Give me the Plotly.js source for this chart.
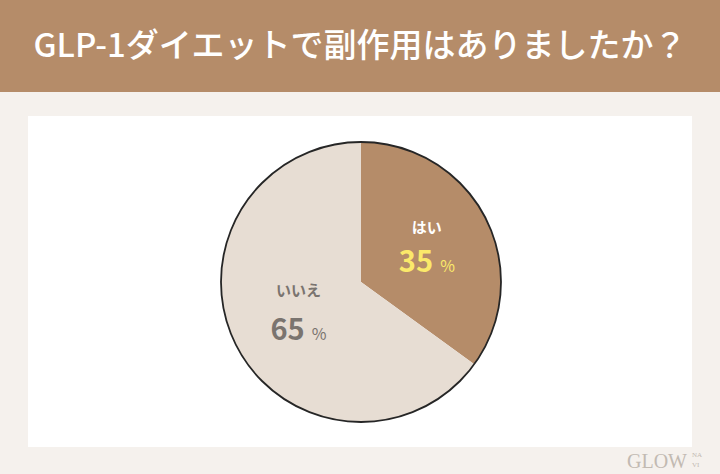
<!DOCTYPE html>
<html>
<head>
<meta charset="utf-8">
<script src="https://cdn.plot.ly/plotly-3.0.1.min.js"></script>
<style>
html,body{margin:0;padding:0;background:#f5f1ed;}
#chart{width:720px;height:474px;}
</style>
</head>
<body>
<div id="chart"></div>
<script>
const chartTitle = "GLP-1ダイエットで副作用はありましたか？";
const labels = ["はい", "いいえ"];
const values = [35, 65];
const sliceColors = ["#b58c69", "#e7ddd3"];
const labelColors = ["#ffffff", "#7a746f"];
const numberColors = ["#fbe96a", "#7a746f"];

const W = 720, H = 474;
const px = v => v / W;
const py = v => 1 - v / H;

const templates = labels.map((l, i) =>
  "<span style='font-size:15px'><b>%{label}</b></span><br><br><span style='font-size:29px;color:" + numberColors[i] +
  "'><b>%{value}</b></span><span style='font-size:16px;color:" + numberColors[i] + "'>  %</span>"
);

const total = values.reduce((a, b) => a + b, 0);
const dom = {x: [px(221), px(501)], y: [py(422), py(142)]};

const traces = [
  {
    type: "pie",
    labels: labels,
    values: values,
    sort: false,
    direction: "clockwise",
    rotation: 0,
    marker: {colors: sliceColors, line: {width: 0}},
    texttemplate: templates,
    textposition: "inside",
    insidetextorientation: "horizontal",
    textfont: {family: "Noto Sans CJK JP, Noto Sans, sans-serif", size: [15, 17], color: labelColors},
    hoverinfo: "label+percent",
    showlegend: false,
    domain: dom
  },
  {
    type: "pie",
    labels: ["outline"],
    values: [total],
    sort: false,
    marker: {colors: ["rgba(0,0,0,0)"], line: {color: "#262626", width: 1.8}},
    textinfo: "none",
    hoverinfo: "skip",
    showlegend: false,
    domain: dom
  }
];

const layout = {
  width: W, height: H,
  margin: {l: 0, r: 0, t: 0, b: 0},
  paper_bgcolor: "#f5f1ed",
  plot_bgcolor: "rgba(0,0,0,0)",
  showlegend: false,
  title: {
    text: chartTitle,
    font: {family: "Noto Sans CJK JP, Noto Sans, sans-serif", size: 33, color: "#ffffff", weight: 500},
    x: 0.5, xanchor: "center",
    y: py(45), yanchor: "middle", yref: "paper"
  },
  shapes: [
    {type: "rect", xref: "paper", yref: "paper", x0: 0, x1: 1, y0: py(92), y1: 1,
     fillcolor: "#b58c69", line: {width: 0}, layer: "below"},
    {type: "rect", xref: "paper", yref: "paper", x0: px(28), x1: px(692), y0: py(447), y1: py(116),
     fillcolor: "#ffffff", line: {width: 0}, layer: "below"}
  ],
  annotations: [
    {text: "GLOW", xref: "paper", yref: "paper", x: px(689), y: py(461), xanchor: "right", yanchor: "middle",
     showarrow: false, font: {family: "Liberation Serif, DejaVu Serif, serif", size: 20, color: "#c2bab2"}},
    {text: "NA", xref: "paper", yref: "paper", x: px(690), y: py(455), xanchor: "left", yanchor: "middle",
     showarrow: false, font: {family: "Liberation Serif, DejaVu Serif, serif", size: 7, color: "#c2bab2"}},
    {text: "VI", xref: "paper", yref: "paper", x: px(690), y: py(465), xanchor: "left", yanchor: "middle",
     showarrow: false, font: {family: "Liberation Serif, DejaVu Serif, serif", size: 7, color: "#c2bab2"}}
  ]
};

Plotly.newPlot("chart", traces, layout, {displayModeBar: false});
</script>
</body>
</html>
